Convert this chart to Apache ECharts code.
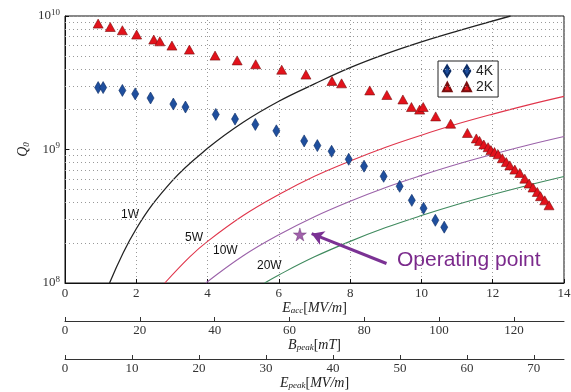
<!DOCTYPE html>
<html>
<head>
<meta charset="utf-8">
<script src="https://cdn.jsdelivr.net/npm/echarts@6/dist/echarts.min.js"></script>
<style>
  html, body { margin: 0; padding: 0; background: #fff; }
  #chart { width: 571px; height: 392px; }
</style>
</head>
<body>
<div id="chart"></div>
<script>
// measured data, 4K and 2K
const eacc4K = [0.93, 1.07, 1.61, 1.97, 2.40, 3.04, 3.38, 4.23, 4.77, 5.34, 5.93, 6.71, 7.08, 7.48, 7.96, 8.39, 8.94, 9.39, 9.73, 10.06, 10.39, 10.64];
const q4K = [2.91e9, 2.91e9, 2.77e9, 2.61e9, 2.43e9, 2.19e9, 2.08e9, 1.83e9, 1.69e9, 1.54e9, 1.38e9, 1.16e9, 1.07e9, 9.7e8, 8.45e8, 7.5e8, 6.3e8, 5.3e8, 4.16e8, 3.63e8, 2.95e8, 2.62e8];
const eacc2K = [0.93, 1.27, 1.61, 2.01, 2.49, 2.66, 3.00, 3.49, 4.21, 4.83, 5.35, 6.08, 6.76, 7.49, 7.76, 8.55, 9.03, 9.48, 9.72, 9.95, 10.05, 10.40, 10.82, 11.29, 11.54, 11.63, 11.75, 11.87, 11.95, 12.05, 12.15, 12.27, 12.38, 12.48, 12.62, 12.76, 12.90, 13.02, 13.13, 13.25, 13.34, 13.46, 13.58];
const q2K = [8.77e9, 8.27e9, 7.82e9, 7.26e9, 6.66e9, 6.46e9, 6.0e9, 5.6e9, 5.05e9, 4.65e9, 4.35e9, 3.96e9, 3.64e9, 3.26e9, 3.13e9, 2.77e9, 2.56e9, 2.37e9, 2.08e9, 1.99e9, 2.08e9, 1.77e9, 1.56e9, 1.33e9, 1.21e9, 1.16e9, 1.09e9, 1.04e9, 9.9e8, 9.57e8, 9.2e8, 8.6e8, 8.05e8, 7.6e8, 7.07e8, 6.67e8, 6.05e8, 5.56e8, 5.19e8, 4.81e8, 4.47e8, 4.16e8, 3.82e8];

// constant dissipated power lines
const line1W = [[1.25, 1e8], [2, 2.55e8], [3, 5.8e8], [4, 1.02e9], [5, 1.6e9], [6, 2.3e9], [7, 3.1e9], [8, 4.1e9], [9, 5.2e9], [10, 6.4e9], [11, 7.7e9], [12.5, 1e10]];
const line5W = [[2.8, 1e8], [3.5, 1.57e8], [4, 2.05e8], [5, 3.2e8], [6, 4.6e8], [7, 6.3e8], [8, 8.2e8], [9, 1.04e9], [10, 1.28e9], [11, 1.55e9], [12, 1.84e9], [13, 2.16e9], [14, 2.5e9]];
const line10W = [[3.95, 1e8], [5, 1.6e8], [6, 2.3e8], [7, 3.14e8], [8, 4.1e8], [9, 5.2e8], [10, 6.4e8], [11, 7.75e8], [12, 9.2e8], [13, 1.08e9], [14, 1.25e9]];
const line20W = [[5.6, 1e8], [6, 1.15e8], [7, 1.57e8], [8, 2.05e8], [9, 2.6e8], [10, 3.2e8], [11, 3.87e8], [12, 4.6e8], [13, 5.4e8], [14, 6.27e8]];

const operatingPoint = [6.59, 2.31e8];
const arrowFrom = [9.02, 1.40e8];
const arrowTo = [6.92, 2.34e8];

// tick labels
const bpeakTicks = [0, 20, 40, 60, 80, 100, 120];
const epeakTicks = [0, 10, 20, 30, 40, 50, 60, 70];
const minorQ = [2e8, 3e8, 4e8, 5e8, 6e8, 7e8, 8e8, 9e8, 2e9, 3e9, 4e9, 5e9, 6e9, 7e9, 8e9, 9e9];

const serif = 'Liberation Serif';
const tickFont = { fontFamily: serif, fontSize: 13, color: '#333' };
const unitRich = {
  i: { fontFamily: serif, fontStyle: 'italic', fontSize: 14, color: '#222' },
  s: { fontFamily: serif, fontStyle: 'italic', fontSize: 9, color: '#222', verticalAlign: 'bottom', padding: [6, 0, 0, 0] },
  n: { fontFamily: serif, fontSize: 14, color: '#222' }
};

const chart = echarts.init(document.getElementById('chart'));

function zip(xs, ys) { return xs.map((x, i) => [x, ys[i]]); }

const gridDot = { show: true, lineStyle: { color: '#999', type: [1, 3], width: 1 } };

const option = {
  backgroundColor: '#fff',
  animation: false,
  grid: {
    left: 65, right: 7, top: 16, bottom: 109, outerBoundsMode: 'none', containLabel: false,
    show: true, borderColor: '#111', borderWidth: 1, backgroundColor: 'transparent'
  },
  legend: {
    left: 438, top: 61, orient: 'vertical',
    backgroundColor: '#fff', borderColor: '#222', borderWidth: 1, borderRadius: 0,
    padding: [3, 5, 3, 4], itemGap: 2, itemWidth: 28, itemHeight: 11,
    textStyle: { fontFamily: 'Liberation Sans', fontSize: 14, color: '#222' },
    data: [
      { name: '4K', icon: 'path://M3,0L6,5L3,10L0,5Z M21,0L24,5L21,10L18,5Z' },
      { name: '2K', icon: 'path://M4,1L8,9L0,9Z M22,1L26,9L18,9Z' }
    ]
  },
  xAxis: [
    {
      type: 'value', min: 0, max: 14, interval: 2, position: 'bottom',
      name: '{i|E}{s|acc}{n|[}{i|MV/m}{n|]}', nameLocation: 'middle', nameGap: 25, nameMoveOverlap: false,
      nameTextStyle: { rich: unitRich, verticalAlign: 'middle' },
      axisLine: { onZero: false, lineStyle: { color: '#111' } },
      axisTick: { inside: true, length: 4, lineStyle: { color: '#111' } },
      axisLabel: Object.assign({ margin: 4 }, tickFont),
      splitLine: gridDot
    },
    {
      type: 'value', min: 0, max: 133.4, position: 'bottom', offset: 38,
      name: '{i|B}{s|peak}{n|[}{i|mT}{n|]}', nameLocation: 'middle', nameGap: 24, nameMoveOverlap: false,
      nameTextStyle: { rich: unitRich, verticalAlign: 'middle' },
      axisLine: { onZero: false, lineStyle: { color: '#333' } },
      axisTick: { inside: true, length: 4, customValues: bpeakTicks, lineStyle: { color: '#333' } },
      axisLabel: Object.assign({ margin: 3, customValues: bpeakTicks }, tickFont),
      splitLine: { show: false }
    },
    {
      type: 'value', min: 0, max: 74.5, position: 'bottom', offset: 76,
      name: '{i|E}{s|peak}{n|[}{i|MV/m}{n|]}', nameLocation: 'middle', nameGap: 24, nameMoveOverlap: false,
      nameTextStyle: { rich: unitRich, verticalAlign: 'middle' },
      axisLine: { onZero: false, lineStyle: { color: '#333' } },
      axisTick: { inside: true, length: 4, customValues: epeakTicks, lineStyle: { color: '#333' } },
      axisLabel: Object.assign({ margin: 3, customValues: epeakTicks }, tickFont),
      splitLine: { show: false }
    }
  ],
  yAxis: {
    type: 'log', logBase: 10, min: 1e8, max: 1e10,
    name: '{i|Q}{s|0}', nameLocation: 'middle', nameGap: 34, nameRotate: 90, nameMoveOverlap: false,
    nameTextStyle: { rich: unitRich },
    axisLine: { lineStyle: { color: '#111' } },
    axisTick: { inside: true, length: 4, lineStyle: { color: '#111' } },
    axisLabel: {
      margin: 5,
      formatter: function (v) { return '{b|10}{e|' + Math.round(Math.log10(v)) + '}'; },
      rich: {
        b: { fontFamily: serif, fontSize: 13, color: '#333' },
        e: { fontFamily: serif, fontSize: 9, color: '#333', verticalAlign: 'top', padding: [0, 0, 7, 0] }
      }
    },
    splitLine: gridDot
  },
  series: [
    {
      name: '1W', type: 'line', data: line1W, smooth: 0.4, showSymbol: false, silent: true,
      lineStyle: { color: '#222', width: 1.3 }, z: 2,
      markLine: {
        silent: true, symbol: 'none', label: { show: false },
        lineStyle: { color: '#999', type: [1, 3], width: 1 },
        data: minorQ.map(q => ({ yAxis: q }))
      }
    },
    { name: '5W', type: 'line', data: line5W, smooth: 0.4, showSymbol: false, silent: true, lineStyle: { color: '#e0354b', width: 1.1 }, z: 2 },
    { name: '10W', type: 'line', data: line10W, smooth: 0.4, showSymbol: false, silent: true, lineStyle: { color: '#9b62a9', width: 1.1 }, z: 2 },
    { name: '20W', type: 'line', data: line20W, smooth: 0.4, showSymbol: false, silent: true, lineStyle: { color: '#3f8a5e', width: 1.1 }, z: 2 },
    {
      name: '4K', type: 'scatter', data: zip(eacc4K, q4K), symbol: 'diamond', symbolSize: [7, 12],
      itemStyle: { color: '#1f4f9e', borderColor: '#0d2d66', borderWidth: 0.6, opacity: 1 }, z: 5
    },
    {
      name: '2K', type: 'scatter', data: zip(eacc2K, q2K), symbol: 'triangle', symbolSize: [10, 9],
      itemStyle: { color: '#e3121b', borderColor: '#7a1010', borderWidth: 0.6, opacity: 1 }, z: 5
    },
    {
      name: 'op', type: 'scatter', data: [operatingPoint], symbol: 'path://M50,0L61,35L98,35L68,57L79,91L50,70L21,91L32,57L2,35L39,35Z', symbolSize: 13,
      itemStyle: { color: '#8a3a96', borderColor: '#5a2466', borderWidth: 0.5 }, z: 6,
      markLine: {
        silent: true, symbol: ['none', 'arrow'], symbolSize: [11, 12], label: { show: false },
        lineStyle: { color: '#7b3294', width: 3, type: 'solid' },
        data: [[{ coord: arrowFrom }, { coord: arrowTo }]]
      }
    }
  ],
  graphic: [
    { type: 'text', left: 397, top: 250, style: { text: 'Operating point', font: '21px "Liberation Sans"', fill: '#7b2a8c' } },
    { type: 'text', left: 121, top: 209, style: { text: '1W', font: '12px "Liberation Sans"', fill: '#111' } },
    { type: 'text', left: 185, top: 232, style: { text: '5W', font: '12px "Liberation Sans"', fill: '#111' } },
    { type: 'text', left: 213, top: 245, style: { text: '10W', font: '12px "Liberation Sans"', fill: '#111' } },
    { type: 'text', left: 257, top: 260, style: { text: '20W', font: '12px "Liberation Sans"', fill: '#111' } }
  ]
};

chart.setOption(option);
</script>
</body>
</html>
